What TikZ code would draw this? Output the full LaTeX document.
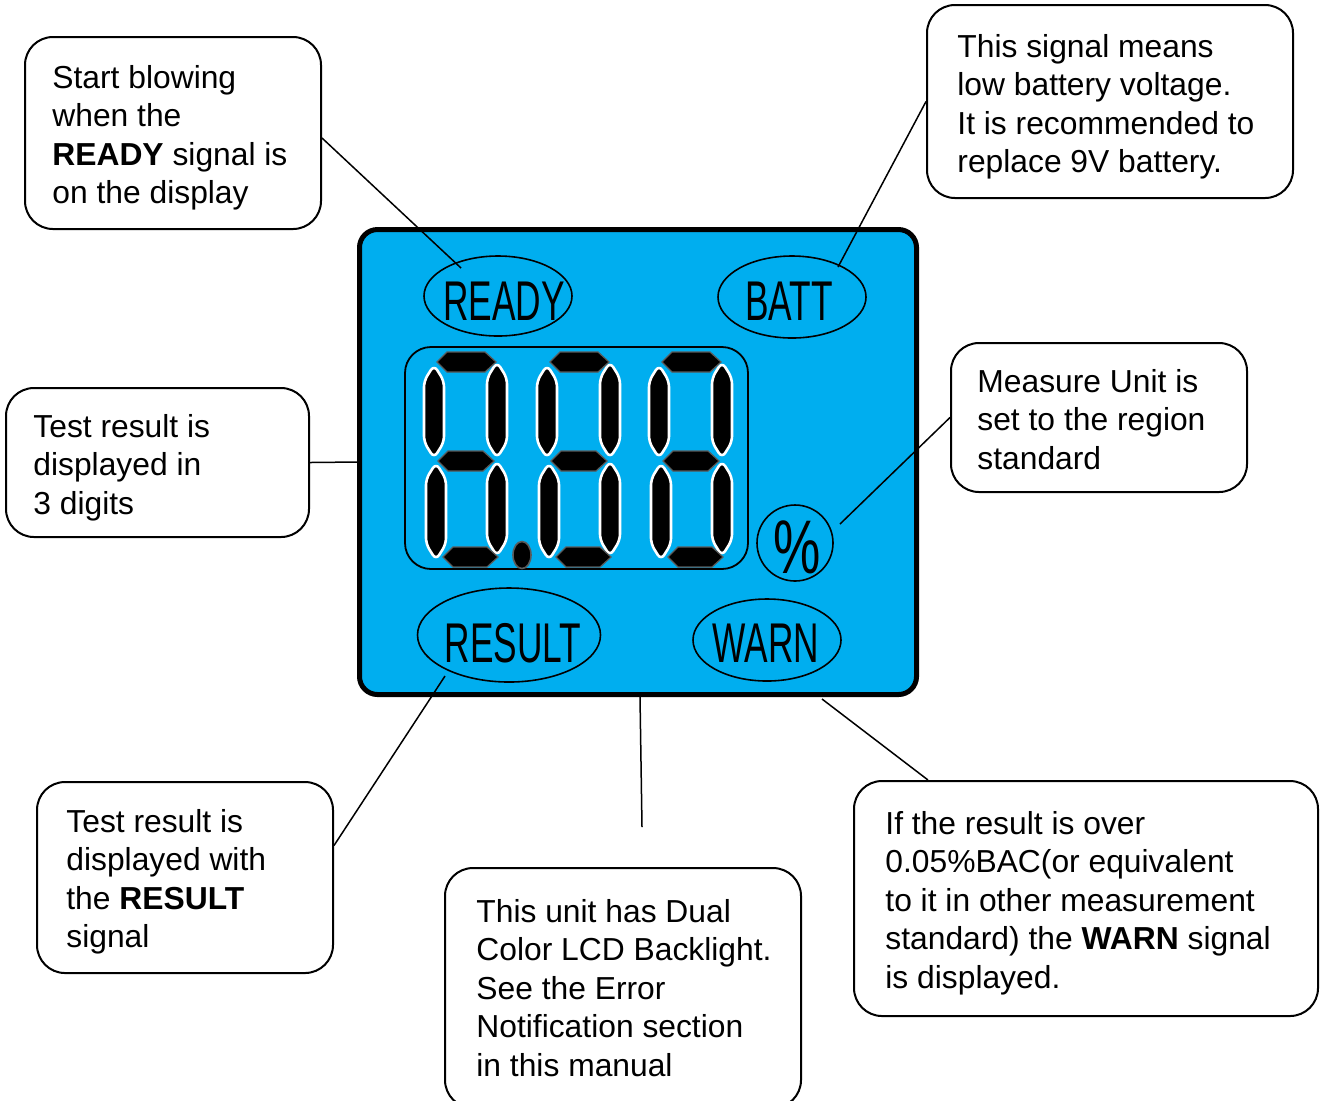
\documentclass[tikz,border=0pt]{standalone}
\usepackage{fontspec}
\setmainfont{Liberation Sans}
\usepackage{graphicx}
\usetikzlibrary{shapes.geometric,calc}
\definecolor{lcdblue}{RGB}{0,174,239}
\definecolor{seggray}{RGB}{90,90,90}
\tikzset{
 callout/.style={draw, line width=1pt, rounded corners=14pt, fill=white, inner sep=0pt},
 txt/.style={anchor=north west, inner sep=0pt, align=left, font={\fontsize{15.9}{19.2}\selectfont}},
 conn/.style={line width=0.75pt},
 lbl/.style={ellipse, draw, line width=0.8pt, inner sep=0pt},
 lcdtxt/.style={anchor=base, inner sep=0pt, font={\fontsize{28}{28}\selectfont}},
 vsegstyle/.style={fill=black, draw=white, line width=1.3pt, line join=round, rounded corners=3pt},
 hsegstyle/.style={fill=black, draw=seggray, line width=0.6pt},
}
\newcommand\vseg[3]{\filldraw[vsegstyle] (#1,#2) -- (#1+10,#2+16) -- (#1+10,#3-16) -- (#1,#3) -- (#1-10,#3-16) -- (#1-10,#2+16) -- cycle;}
\newcommand\hseg[3]{\filldraw[hsegstyle] (#1,#3) -- (#1+10,#3-10) -- (#2-11,#3-10) -- (#2,#3) -- (#2-11,#3+10) -- (#1+10,#3+10) -- cycle;}
\newcommand\lcddigit[1]{\begin{scope}[shift={(#1,0)}]
\vseg{434}{365}{458}
\vseg{436}{463}{560}
\vseg{497}{362}{458}
\vseg{497}{461}{556}
\hseg{437}{496}{362}
\hseg{438}{494}{461}
\hseg{443}{498}{557}
\end{scope}}
\begin{document}
\begin{tikzpicture}[x=0.5pt,y=-0.5pt]
\useasboundingbox (0,0) rectangle (1326,1100);
\clip (0,0) rectangle (1326,1100);
\fill[white] (0,0) rectangle (1326,1100);

% LCD panel
\node[draw, line width=2.5pt, rounded corners=9pt, fill=lcdblue, minimum width=278.5pt, minimum height=232.5pt, inner sep=0pt] (lcd) at (638,462) {};
\node[draw, line width=0.9pt, rounded corners=13pt, minimum width=171.5pt, minimum height=111pt, inner sep=0pt] (digits) at (576.5,458) {};
\lcddigit{0}
\lcddigit{113}
\lcddigit{225}
\node[ellipse, fill=black, draw=seggray, line width=0.8pt, minimum width=9pt, minimum height=13.5pt, inner sep=0pt] (dp) at (522,555) {};

\node[lbl, minimum width=74pt, minimum height=40pt] (ready) at (498,296) {};
\node[lcdtxt] (readyt) at (504,320) {\scalebox{0.63}[1]{READY}};
\node[lbl, minimum width=74pt, minimum height=41pt] (batt) at (792,297) {};
\node[lcdtxt] (battt) at (789,320) {\scalebox{0.63}[1]{BATT}};
\node[lbl, minimum width=91.5pt, minimum height=47pt] (result) at (509,635) {};
\node[lcdtxt] (resultt) at (513,662) {\scalebox{0.63}[1]{RESULT}};
\node[lbl, minimum width=74pt, minimum height=41pt] (warn) at (767,640) {};
\node[lcdtxt] (warnt) at (766,662) {\scalebox{0.63}[1]{WARN}};
\node[circle, draw, line width=0.8pt, minimum size=38pt, inner sep=0pt] (pct) at (795,543) {};
\node[anchor=base, inner sep=0pt, font={\fontsize{38}{38}\selectfont}] (pctt) at (797,573) {\scalebox{0.7}[1]{\%}};

% callout boxes
\node[callout, minimum width=148pt, minimum height=96pt] (b1) at (173,133) {};
\node[txt] (t1) at (52,65) {Start blowing\\when the\\\textbf{READY} signal is\\on the display};
\node[callout, minimum width=183pt, minimum height=96.5pt] (bbatt) at (1110,101.5) {};
\node[txt] (tbatt) at (957,34) {This signal means\\low battery voltage.\\It is recommended to\\replace 9V battery.};
\node[callout, minimum width=151.5pt, minimum height=74.5pt] (bdig) at (157.5,462.5) {};
\node[txt] (tdig) at (33,414) {Test result is\\displayed in\\3 digits};
\node[callout, minimum width=148pt, minimum height=74.5pt] (bunit) at (1099,417.5) {};
\node[txt] (tunit) at (977,369) {Measure Unit is\\set to the region\\standard};
\node[callout, minimum width=148pt, minimum height=95.5pt] (bres) at (185,877.5) {};
\node[txt] (tres) at (66,809) {Test result is\\displayed with\\the \textbf{RESULT}\\signal};
\node[callout, minimum width=178pt, minimum height=120pt] (bmid) at (623,988) {};
\node[txt] (tmid) at (476,899) {This unit has Dual\\Color LCD Backlight.\\See the Error\\Notification section\\in this manual};
\node[callout, minimum width=232pt, minimum height=117.5pt] (bwarn) at (1086,898.5) {};
\node[txt] (twarn) at (885,811) {If the result is over\\0.05\%BAC(or equivalent\\to it in other measurement\\standard) the \textbf{WARN} signal\\is displayed.};

% connectors
\draw[conn] ([yshift=-2.5pt]b1.east) -- ($(ready.center)+(-37,-28)$);
\draw[conn] (bbatt.west) -- ($(batt.center)+(46,-30)$);
\draw[conn] (bdig.east) -- (lcd.west);
\draw[conn] (bunit.west) -- ($(pct.center)+(45,-19)$);
\draw[conn] ([yshift=16pt]bres.east) -- ($(result.center)+(-64,41)$);
\coordinate (midend) at (642,827);
\draw[conn] ($(lcd.south)+(2,0)$) -- (midend);
\draw[conn] ($(lcd.south east)+(-97,2)$) -- ($(bwarn.north west)+(75,0)$);
\end{tikzpicture}
\end{document}
